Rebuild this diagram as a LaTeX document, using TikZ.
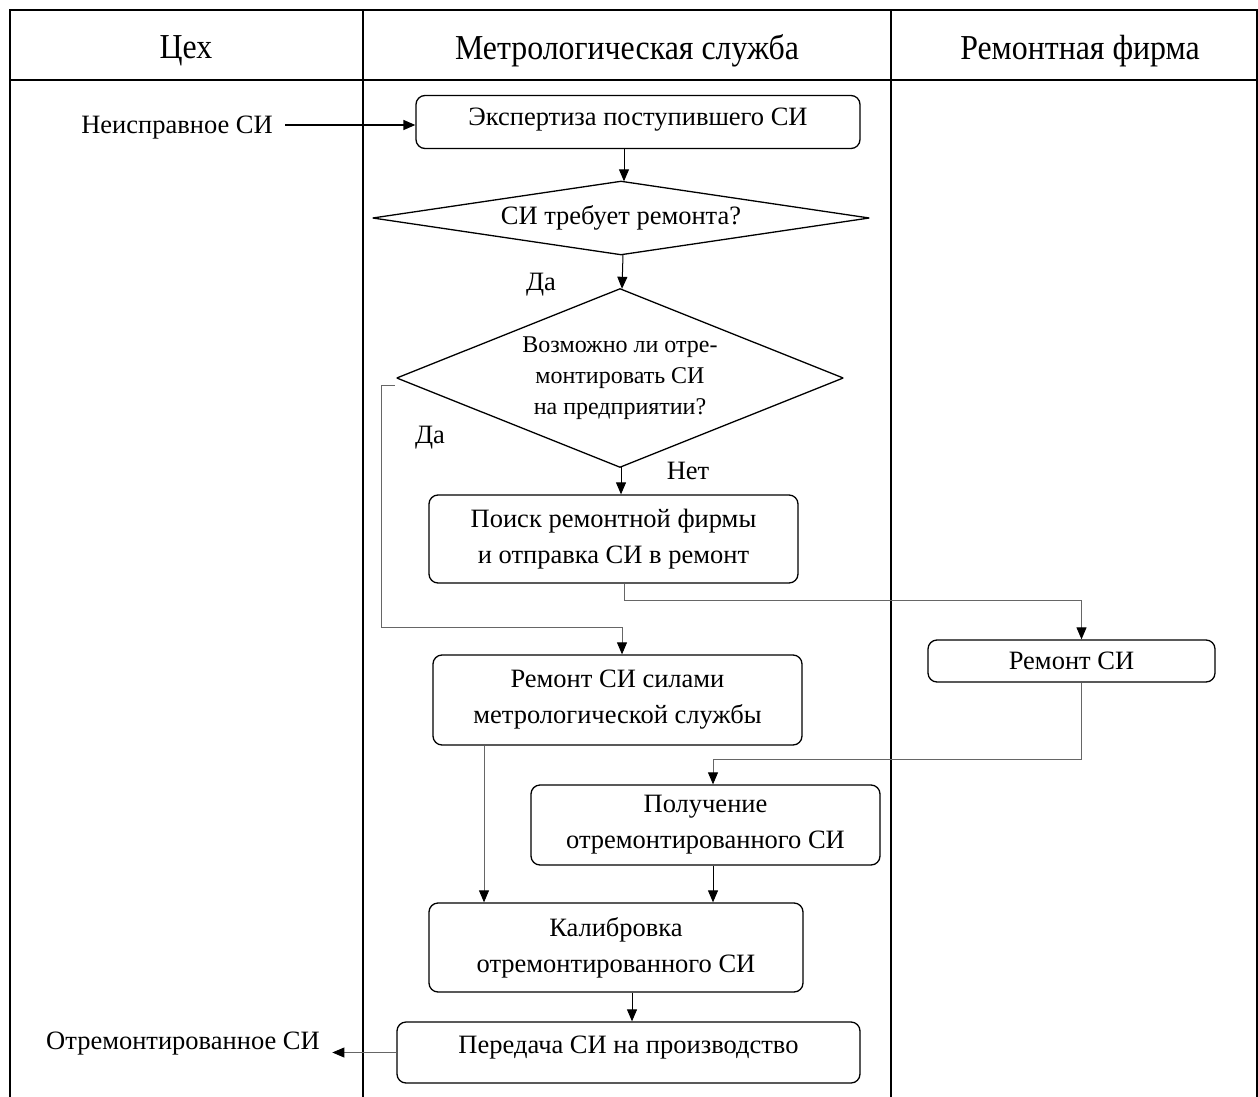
\documentclass[tikz,border=0pt]{standalone}
\usepackage{fontspec}
\setmainfont{Liberation Serif}
\newfontfamily\hdfont[FakeStretch=0.91]{Liberation Serif}
\usetikzlibrary{arrows.meta,calc}
\tikzset{
  box/.style={draw, rounded corners=9pt, line width=1.3pt, inner sep=0pt, align=center,
    font=\fontsize{26.5}{36}\selectfont},
  dia/.style={inner sep=0pt, align=center},
  diaedge/.style={line width=1.3pt, line join=bevel},
  txt/.style={inner sep=0pt, align=center, font=\fontsize{26.5}{35}\selectfont},
  hd/.style={inner sep=0pt, font=\hdfont\fontsize{35}{40}\selectfont},
  frame/.style={line width=2pt},
  arr/.style={-{Triangle[length=12pt,width=10pt,color=black]}, line width=1pt},
  garr/.style={arr, draw=black!60, line width=0.9pt},
}
\begin{document}
\begin{tikzpicture}[x=1pt,y=-1pt]
\useasboundingbox (0,0) rectangle (1258,1097);
% swimlane frame
\draw[frame] (10,1097) -- (10,10) -- (1257,10) -- (1257,1097);
\draw[frame] (10,80) -- (1257,80);
\draw[frame] (363,10) -- (363,1097);
\draw[frame] (891,10) -- (891,1097);
\node[hd] (h1) at (186,51) {Цех};
\node[hd] (h2) at (627,51) {Метрологическая служба};
\node[hd] (h3) at (1080,51) {Ремонтная фирма};
% nodes
\node[txt, anchor=east] (in) at (273,128) {Неисправное СИ};
\node[box, minimum width=444pt, minimum height=53pt] (n1) at (638,122) {};
\node[txt] (t1) at (638,120) {Экспертиза поступившего СИ};
\node[dia, minimum width=496pt, minimum height=73pt, font=\fontsize{26.5}{35}\selectfont] (d1) at (621,218) {СИ требует ремонта?};
\draw[diaedge] (d1.north) -- (d1.east) -- (d1.south) -- (d1.west) -- cycle;
\node[dia, minimum width=446pt, minimum height=178pt, font=\fontsize{24}{31}\selectfont] (d2) at (620,378) {Возможно ли отре-\\монтировать СИ\\на предприятии?};
\draw[diaedge] (d2.north) -- (d2.east) -- (d2.south) -- (d2.west) -- cycle;
\node[box, minimum width=369pt, minimum height=88pt] (b2) at (613.5,539) {Поиск ремонтной фирмы\\и отправка СИ в ремонт};
\node[box, minimum width=287pt, minimum height=42pt] (rep) at (1071.5,661) {Ремонт СИ};
\node[box, minimum width=369pt, minimum height=90pt] (b3) at (617.5,700) {Ремонт СИ силами\\метрологической службы};
\node[box, minimum width=349pt, minimum height=80pt] (b4) at (705.5,825) {Получение\\отремонтированного СИ};
\node[box, minimum width=374pt, minimum height=89pt] (b5) at (616,947.5) {Калибровка\\отремонтированного СИ};
\node[box, minimum width=463pt, minimum height=61pt] (b6) at (628.5,1052.5) {};
\node[txt] (t6) at (628.5,1048) {Передача СИ на производство};
\node[txt, anchor=east] (out) at (320,1044) {Отремонтированное СИ};
% labels
\node[txt] (l1) at (541,285) {Да};
\node[txt] (l2) at (430,438) {Да};
\node[txt] (l3) at (688,471) {Нет};
% connectors
\coordinate (inS) at ($(in.east)+(12,-3)$);
\draw[arr, line width=1.5pt] (inS) -- (inS -| n1.west);
\draw[arr] ($(d1.north |- n1.south)+(3,0)$) -- ($(d1.north)+(3,0)$);
\draw[arr] ($(d1.south)+(2,0)$) -- ($(d2.north)+(2,0)$);
\draw[arr] ($(d2.south)+(1,0)$) -- ($(d2.south |- b2.north)+(1,0)$);
\draw[garr] ($(b2.south)+(11,0)$) -- ++(0,17) -| ($(rep.north)+(10,0)$);
\draw[garr] ($(d2.west)+(-2,7)$) -- ++(-13,0) |- ($(b3.north)+(4.5,-27)$) -- ($(b3.north)+(4.5,0)$);
\draw[garr] ($(rep.south)+(10,0)$) -- ++(0,77) -| ($(b4.north)+(7.5,0)$);
\draw[garr] ($(b3.south)+(-133.5,0)$) -- ($(b5.north)+(-132,0)$);
\draw[arr] ($(b4.south)+(7.5,0)$) -- ($(b5.north)+(97,0)$);
\draw[arr] ($(b5.south)+(16,0)$) -- ($(b6.north)+(3.5,0)$);
\draw[garr] (b6.west) -- ++(-64,0);
\end{tikzpicture}
\end{document}
